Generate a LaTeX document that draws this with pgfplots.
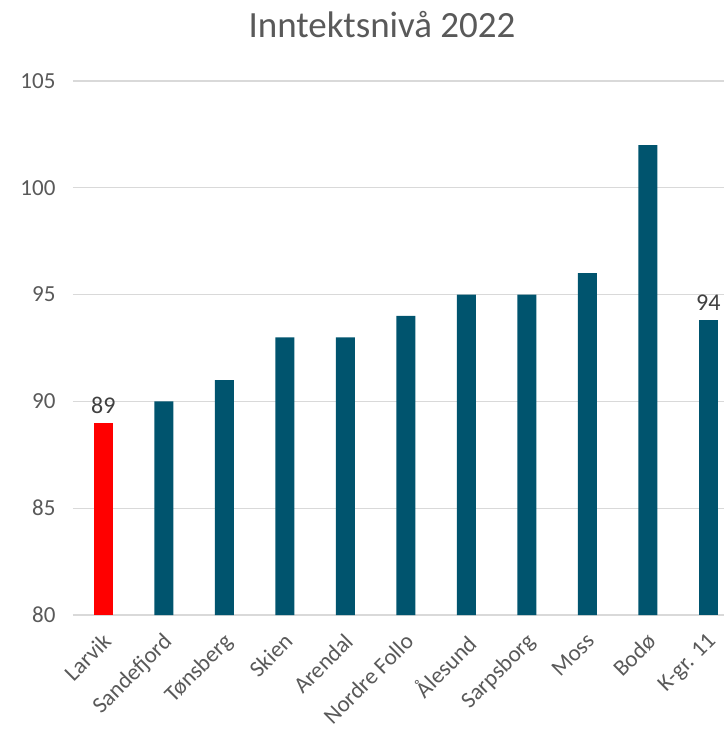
\documentclass[border=0pt]{standalone}
\usepackage{fontspec}
\setmainfont{Carlito}
\usepackage{pgfplots}
\pgfplotsset{compat=1.18}
\definecolor{barblue}{HTML}{00546E}
\definecolor{txtgray}{HTML}{595959}
\definecolor{lblgray}{HTML}{404040}
\definecolor{gridgray}{HTML}{D9D9D9}
\begin{document}
\begin{tikzpicture}
\path[use as bounding box] (0,0) rectangle (724pt,732pt);
\node[text=txtgray, font=\fontsize{37}{40}\selectfont] at (382pt,707pt) {Inntektsnivå 2022};
\begin{axis}[
  at={(73pt,117pt)}, anchor=south west,
  width=651pt, height=534pt, scale only axis,
  xmin=-0.5, xmax=10.26, ymin=80, ymax=105,
  enlargelimits=false,
  ytick={80,85,90,95,100,105},
  xtick={0,...,10},
  xticklabels={Larvik,Sandefjord,Tønsberg,Skien,Arendal,Nordre Follo,Ålesund,Sarpsborg,Moss,Bodø,K-gr. 11},
  axis line style={draw=none},
  major tick length=0pt,
  ymajorgrids,
  grid style={gridgray, line width=1.3pt},
  /pgf/number format/assume math mode=true,
  yticklabel style={font=\fontsize{23}{23}\selectfont, text=txtgray, xshift=-14pt},
  xticklabel style={font=\fontsize{23}{23}\selectfont, text=txtgray, rotate=45, anchor=north east, xshift=-10pt, yshift=-7pt},
  ybar, bar width=19pt,
  nodes near coords style={font=\fontsize{24}{24}\selectfont, text=lblgray, yshift=6pt},
]
\addplot[fill=red, draw=none, bar shift=0pt,
  nodes near coords={\pgfmathprintnumber[fixed,precision=0]{\pgfplotspointmeta}}]
  coordinates {(0,89)};
\addplot[fill=barblue, draw=none, bar shift=0pt]
  coordinates {(1,90) (2,91) (3,93) (4,93) (5,94) (6,95) (7,95) (8,96) (9,102)};
\addplot[fill=barblue, draw=none, bar shift=0pt,
  nodes near coords={\pgfmathprintnumber[fixed,precision=0]{\pgfplotspointmeta}}]
  coordinates {(10,93.8)};
\end{axis}
\end{tikzpicture}
\end{document}
